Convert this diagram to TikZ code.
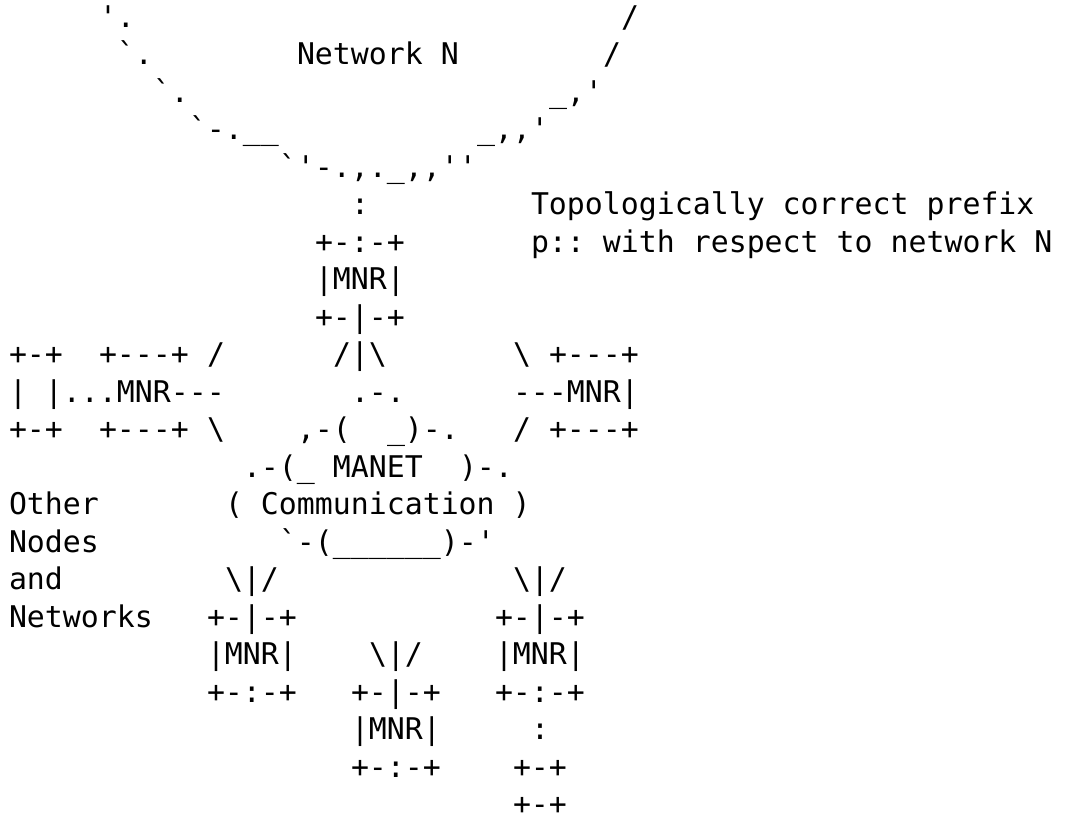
\documentclass[tikz,border=0pt]{standalone}
\usepackage{fontspec}
\setmonofont{DejaVu Sans Mono}
\usepackage{tikz}
\newcommand{\artfont}{\ttfamily\fontsize{22.4pt}{28pt}\selectfont}
\newcommand{\bsl}{\textbackslash}
\tikzset{
  ascii/.style={anchor=base west,inner sep=0pt,outer sep=0pt,font=\artfont,text=black}
}
\begin{document}
\begin{tikzpicture}[x=13.5pt,y=-28.125pt]
\useasboundingbox[fill=white] (-6.75pt,20.25pt) rectangle (798pt,-599.25pt);
% border of network N
\node[ascii] (edgeL1) at (5,0) {'.};
\node[ascii] (edgeR1) at (34,0) {/};
\node[ascii] (edgeL2) at (6,1) {`.};
\node[ascii] (netN) at (16,1) {Network N};
\node[ascii] (edgeR2) at (33,1) {/};
\node[ascii] (edgeL3) at (8,2) {`.};
\node[ascii] (edgeR3) at (30,2) {\_,'};
\node[ascii] (edgeL4) at (10,3) {`-.\_\_};
\node[ascii] (edgeR4) at (26,3) {\_,,'};
\node[ascii] (edgeB) at (15,4) {`'-.,.\_,,''};
% top MNR and prefix text
\node[ascii] (linkN) at (19,5) {:};
\node[ascii] (prefixA) at (29,5) {Topologically correct prefix};
\node[ascii] (mnrTopA) at (17,6) {+-:-+};
\node[ascii] (prefixB) at (29,6) {p:: with respect to network N};
\node[ascii] (mnrTopB) at (17,7) {|MNR|};
\node[ascii] (mnrTopC) at (17,8) {+-|-+};
% side MNRs
\node[ascii] (otherA) at (0,9) {+-+};
\node[ascii] (mnrLA) at (5,9) {+---+};
\node[ascii] (linkLA) at (11,9) {/};
\node[ascii] (linkTop) at (18,9) {/|\bsl};
\node[ascii] (linkRA) at (28,9) {\bsl};
\node[ascii] (mnrRA) at (30,9) {+---+};
\node[ascii] (mnrLB) at (0,10) {| |...MNR---};
\node[ascii] (cloudA) at (19,10) {.-.};
\node[ascii] (mnrRB) at (28,10) {---MNR|};
\node[ascii] (otherC) at (0,11) {+-+};
\node[ascii] (mnrLC) at (5,11) {+---+};
\node[ascii] (linkLC) at (11,11) {\bsl};
\node[ascii] (cloudB) at (16,11) {,-(};
\node[ascii] (cloudC) at (21,11) {\_)-.};
\node[ascii] (linkRC) at (28,11) {/};
\node[ascii] (mnrRC) at (30,11) {+---+};
% MANET cloud
\node[ascii] (cloudD) at (13,12) {.-(\_ MANET};
\node[ascii] (cloudE) at (25,12) {)-.};
\node[ascii] (other1) at (0,13) {Other};
\node[ascii] (cloudF) at (12,13) {( Communication )};
\node[ascii] (other2) at (0,14) {Nodes};
\node[ascii] (cloudG) at (15,14) {`-(\_\_\_\_\_\_)-'};
\node[ascii] (other3) at (0,15) {and};
\node[ascii] (other4) at (0,16) {Networks};
% bottom MNRs
\node[ascii] (linkBL) at (12,15) {\bsl|/};
\node[ascii] (linkBR) at (28,15) {\bsl|/};
\node[ascii] (mnrBLA) at (11,16) {+-|-+};
\node[ascii] (mnrBRA) at (27,16) {+-|-+};
\node[ascii] (mnrBLB) at (11,17) {|MNR|};
\node[ascii] (linkBM) at (20,17) {\bsl|/};
\node[ascii] (mnrBRB) at (27,17) {|MNR|};
\node[ascii] (mnrBLC) at (11,18) {+-:-+};
\node[ascii] (mnrBMA) at (19,18) {+-|-+};
\node[ascii] (mnrBRC) at (27,18) {+-:-+};
\node[ascii] (mnrBMB) at (19,19) {|MNR|};
\node[ascii] (linkHost) at (29,19) {:};
\node[ascii] (mnrBMC) at (19,20) {+-:-+};
\node[ascii] (hostA) at (28,20) {+-+};
\node[ascii] (hostB) at (28,21) {+-+};
\end{tikzpicture}
\end{document}
